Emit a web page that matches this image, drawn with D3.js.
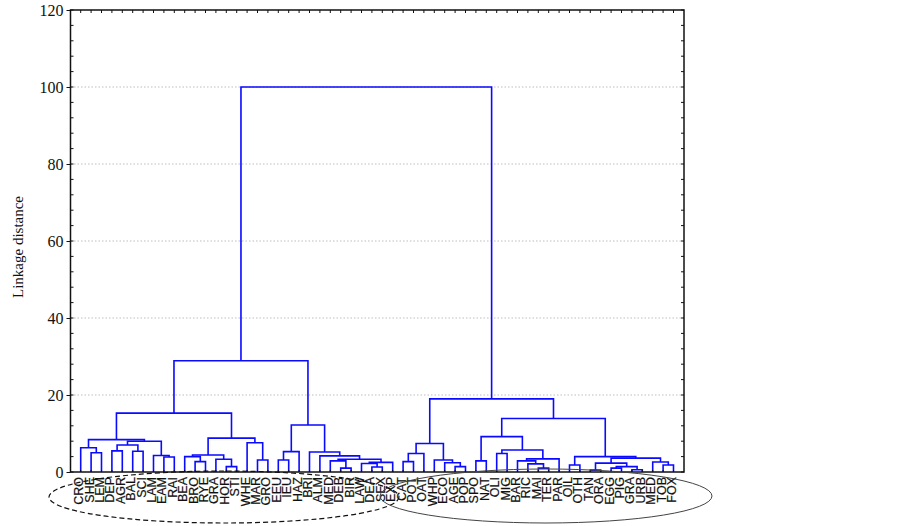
<!DOCTYPE html>
<html>
<head>
<meta charset="utf-8">
<script src="https://cdn.jsdelivr.net/npm/d3@7"></script>
<style>
  body { margin: 0; background: #fff; }
  svg { display: block; }
</style>
</head>
<body>
<div id="chart"></div>
<script>
// leaf labels, left to right
var leaves = ["CRO","SHE","LEM","DEP","AGR","BAL","SCI","LAM","EAM","RAI",
  "BEA","BRO","RYE","GRA","HOR","STI","WHE","MAR","GRO","EEU",
  "IEU","HAZ","BRI","ALM","MED","DEB","BIR","LAW","DEA","SEX",
  "EXP","CAT","POT","OAT","WHP","ECO","AGE","POP","SPO","NAT",
  "OLI","MIG","BAR","RIC","MAI","TER","PAR","OIL","OTH","TAN",
  "ORA","EGG","PIG","GRA","URB","MED","TOB","FOX"];

// linkage: [childA, childB, distance]; ids >= 58 refer to earlier merges (58 + row)
var merges = [
  [1, 2, 5.0], [0, 58, 6.3], [3, 4, 5.5], [5, 6, 5.4], [60, 61, 7.0],
  [8, 9, 3.9], [7, 63, 4.3], [62, 64, 8.0], [59, 65, 8.4], [11, 12, 2.7],
  [10, 67, 4.0], [14, 15, 1.4], [13, 69, 3.3], [68, 70, 4.4], [17, 18, 3.1],
  [16, 72, 7.6], [71, 73, 8.8], [66, 74, 15.3], [19, 20, 3.1], [76, 21, 5.3],
  [25, 26, 1.0], [24, 78, 2.9], [28, 29, 1.3], [27, 80, 2.2], [81, 30, 2.5],
  [79, 82, 3.3], [23, 83, 4.2], [22, 84, 5.2], [77, 85, 12.2], [75, 86, 28.9],
  [31, 32, 2.7], [88, 33, 4.8], [36, 37, 1.4], [35, 90, 2.4], [34, 91, 3.1],
  [89, 92, 7.4], [38, 39, 2.9], [40, 41, 4.8], [44, 45, 1.0], [43, 96, 2.1],
  [42, 97, 2.9], [98, 46, 3.4], [95, 99, 5.7], [94, 100, 9.2], [47, 48, 1.8],
  [49, 50, 0.5], [51, 52, 1.0], [53, 54, 0.6], [104, 105, 1.4], [103, 106, 2.3],
  [56, 57, 1.8], [55, 108, 2.6], [107, 109, 3.6], [102, 110, 4.0], [101, 111, 13.9],
  [93, 112, 19.0], [87, 113, 100]
];

var majorTicks = [0, 20, 40, 60, 80, 100, 120];
var gridTicks = [20, 40, 60, 80, 100];
var minorTicks = d3.range(0, 121, 4);

(function() {
  var width = 902, height = 526;
  var plotLeft = 70.5, plotRight = 684, plotTop = 10, plotBottom = 472;

  var svg = d3.select("#chart").append("svg")
    .attr("width", width)
    .attr("height", height);

  var y = d3.scaleLinear().domain([0, 120]).range([plotBottom, plotTop]);
  var x = d3.scalePoint().domain(d3.range(leaves.length)).range([80.7, 673.5]);

  // grid
  svg.append("g").selectAll("line")
    .data(gridTicks).enter().append("line")
    .attr("x1", plotLeft).attr("x2", plotRight)
    .attr("y1", function(d) { return y(d); })
    .attr("y2", function(d) { return y(d); })
    .attr("stroke", "#bdbdbd")
    .attr("stroke-width", 1)
    .attr("stroke-dasharray", "1.5,2");

  // build tree from the linkage list
  var nodes = leaves.map(function(name, i) { return { name: name, index: i, h: 0 }; });
  merges.forEach(function(m) {
    nodes.push({ children: [nodes[m[0]], nodes[m[1]]], h: m[2] });
  });
  var root = d3.hierarchy(nodes[nodes.length - 1]);
  root.eachAfter(function(n) {
    if (n.children) n.cx = (n.children[0].cx + n.children[1].cx) / 2;
    else n.cx = x(n.data.index);
  });

  var links = [];
  root.each(function(n) {
    if (!n.children) return;
    var a = n.children[0], b = n.children[1];
    var p = d3.path();
    p.moveTo(a.cx, y(a.data.h));
    p.lineTo(a.cx, y(n.data.h));
    p.lineTo(b.cx, y(n.data.h));
    p.lineTo(b.cx, y(b.data.h));
    links.push(p.toString());
  });

  svg.append("g").selectAll("path")
    .data(links).enter().append("path")
    .attr("d", function(d) { return d; })
    .attr("fill", "none")
    .attr("stroke", "#0a0aff")
    .attr("stroke-width", 1.6);

  // frame
  svg.append("rect")
    .attr("x", plotLeft).attr("y", plotTop)
    .attr("width", plotRight - plotLeft).attr("height", plotBottom - plotTop)
    .attr("fill", "none")
    .attr("stroke", "#111")
    .attr("stroke-width", 1.5);

  // left axis
  var yAxis = svg.append("g")
    .attr("transform", "translate(" + plotLeft + ",0)")
    .call(d3.axisLeft(y).tickValues(majorTicks).tickSize(4).tickPadding(3).tickFormat(d3.format("d")));
  yAxis.select(".domain").remove();
  yAxis.selectAll("text")
    .style("font-family", "'Liberation Serif', 'Times New Roman', serif")
    .style("font-size", "16px")
    .attr("fill", "#111");
  yAxis.selectAll("line").attr("stroke", "#111");

  // minor ticks inside left and right
  svg.append("g").selectAll("line")
    .data(minorTicks).enter().append("line")
    .attr("x1", plotLeft).attr("x2", plotLeft + 3)
    .attr("y1", function(d) { return y(d); })
    .attr("y2", function(d) { return y(d); })
    .attr("stroke", "#111");
  svg.append("g").selectAll("line")
    .data(minorTicks).enter().append("line")
    .attr("x1", plotRight).attr("x2", plotRight - 3)
    .attr("y1", function(d) { return y(d); })
    .attr("y2", function(d) { return y(d); })
    .attr("stroke", "#111");

  // leaf ticks top and bottom
  svg.append("g").selectAll("line")
    .data(d3.range(leaves.length)).enter().append("line")
    .attr("x1", function(d) { return x(d); })
    .attr("x2", function(d) { return x(d); })
    .attr("y1", plotTop).attr("y2", plotTop + 3)
    .attr("stroke", "#111");
  svg.append("g").selectAll("line")
    .data(d3.range(leaves.length)).enter().append("line")
    .attr("x1", function(d) { return x(d); })
    .attr("x2", function(d) { return x(d); })
    .attr("y1", plotBottom).attr("y2", plotBottom - 2)
    .attr("stroke", "#111");

  // y label
  svg.append("text")
    .attr("transform", "translate(23," + ((plotTop + plotBottom) / 2 + 6) + ") rotate(-90)")
    .attr("text-anchor", "middle")
    .style("font-family", "'Liberation Serif', 'Times New Roman', serif")
    .style("font-size", "15px")
    .attr("fill", "#111")
    .text("Linkage distance");

  // leaf labels
  svg.append("g").selectAll("text")
    .data(leaves).enter().append("text")
    .attr("transform", function(d, i) { return "translate(" + (x(i) + 2.5) + "," + (plotBottom + 5) + ") rotate(-90)"; })
    .attr("text-anchor", "end")
    .style("font-family", "'Liberation Sans', Arial, sans-serif")
    .style("font-size", "12.5px")
    .attr("fill", "#111")
    .attr("stroke", "#111")
    .attr("stroke-width", 0.2)
    .text(function(d) { return d; });

  // group ellipses
  svg.append("ellipse")
    .attr("cx", 224).attr("cy", 497).attr("rx", 175).attr("ry", 26)
    .attr("fill", "none")
    .attr("stroke", "#111")
    .attr("stroke-width", 1.2)
    .attr("stroke-dasharray", "5,3");
  svg.append("ellipse")
    .attr("cx", 546).attr("cy", 496).attr("rx", 166).attr("ry", 27)
    .attr("fill", "none")
    .attr("stroke", "#444")
    .attr("stroke-width", 1);
})();
</script>
</body>
</html>
